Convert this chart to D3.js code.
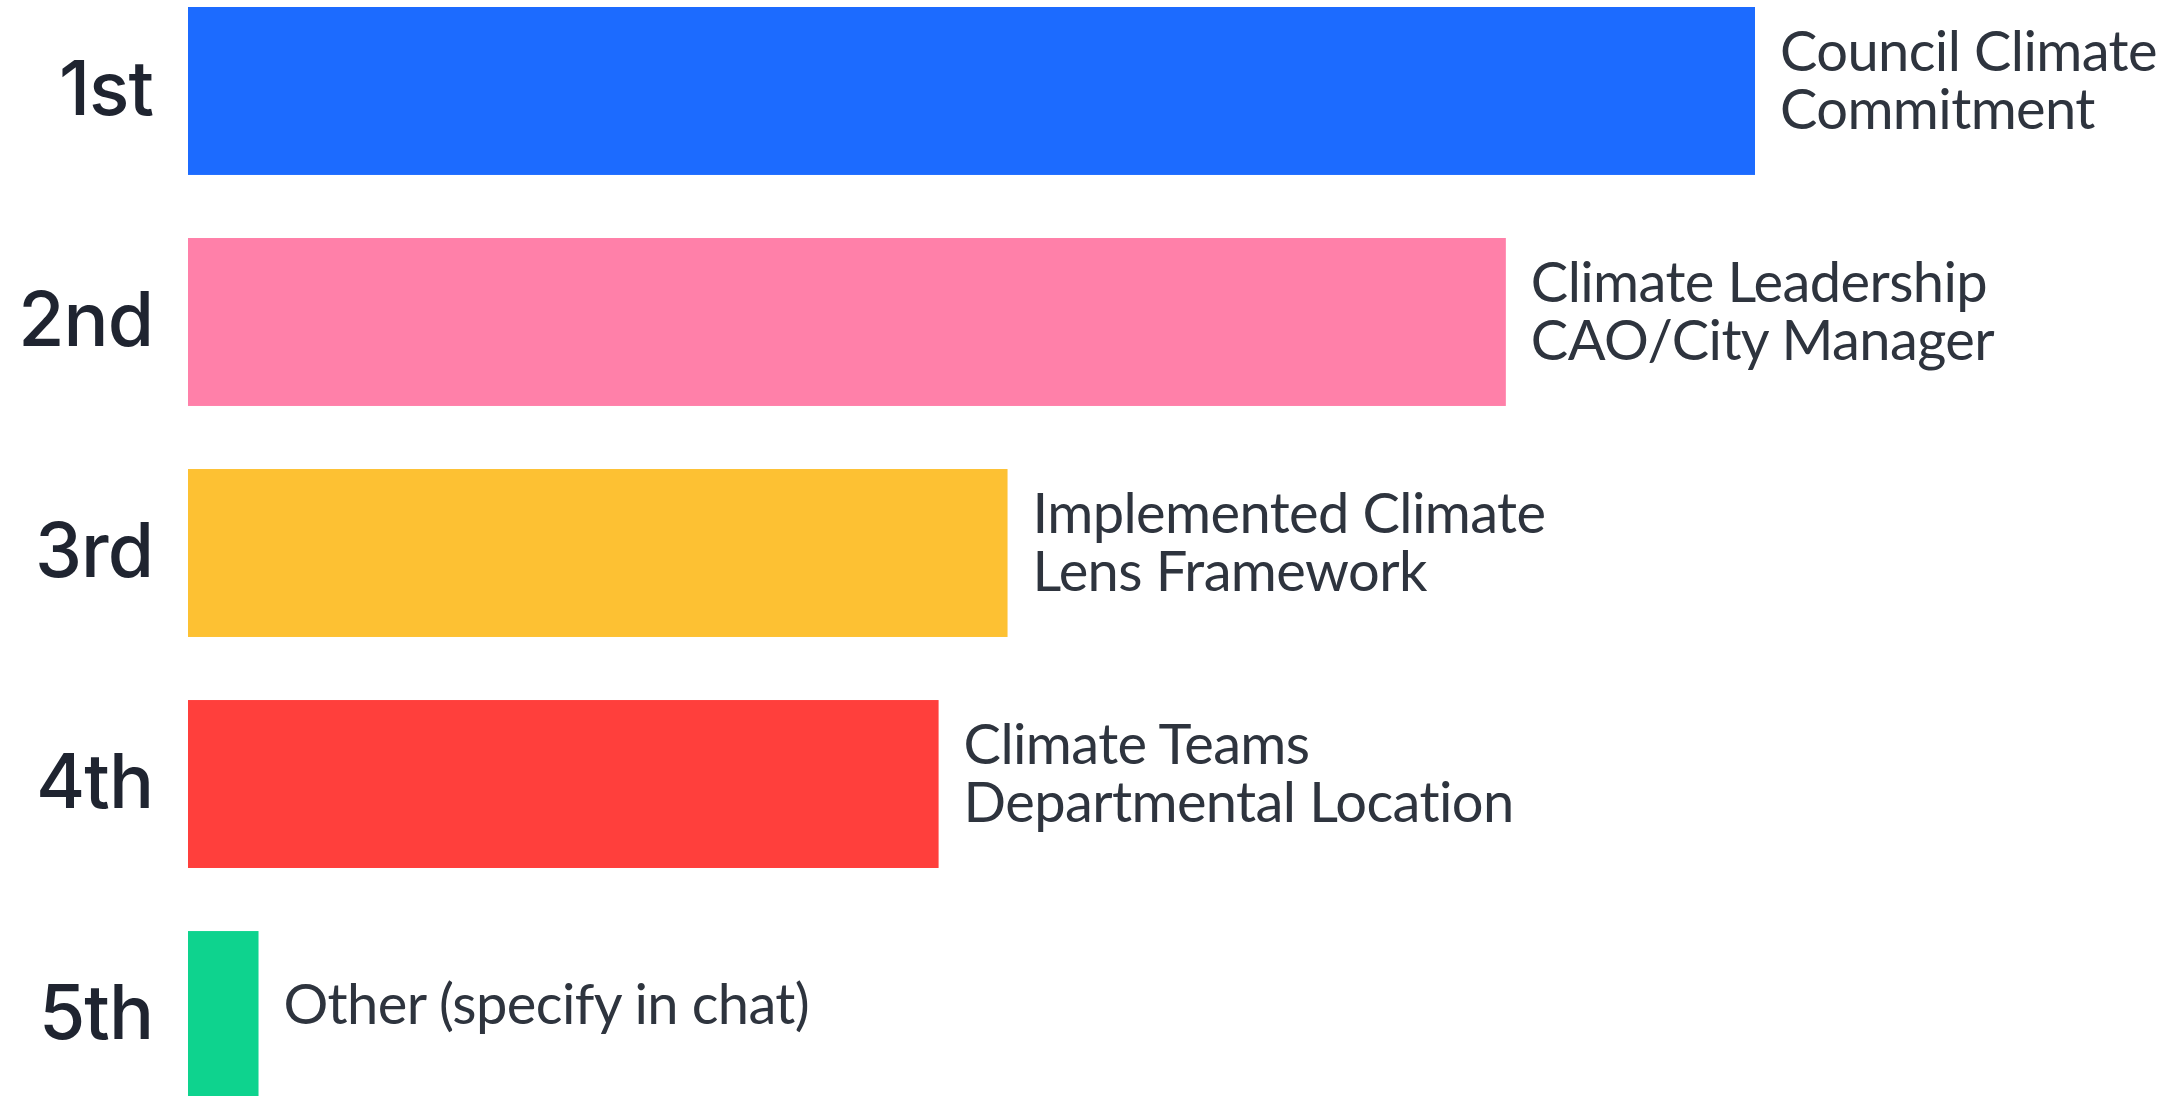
<!DOCTYPE html>
<html>
<head>
<meta charset="utf-8">
<script src="https://cdn.jsdelivr.net/npm/d3@7"></script>
<style>
    html, body { margin: 0; padding: 0; background: #fff; overflow: hidden; }
    svg { display: block; }
</style>
</head>
<body>
<svg width="2177" height="1096"></svg>
<script>
// Rangs et libellés
const ranks = ["1st", "2nd", "3rd", "4th", "5th"];
const labels = [
    ["Council Climate", "Commitment"],
    ["Climate Leadership", "CAO/City Manager"],
    ["Implemented Climate", "Lens Framework"],
    ["Climate Teams", "Departmental Location"],
    ["Other (specify in chat)"]
];
// Score relatif (barre la plus longue = 100)
const scores = [100, 84.1, 52.3, 47.9, 4.5];
const colors = ["#1c6bff", "#ff80a9", "#fdc133", "#ff3f3c", "#0ed38e"];

const svg = d3.select("svg");

const xScale = d3.scaleLinear()
    .domain([0, 100])
    .range([188, 1755]);

const yScale = d3.scaleBand()
    .domain(ranks)
    .range([7, 1099])
    .paddingInner(0.273)
    .paddingOuter(0);

// Barres
svg.selectAll("rect")
    .data(ranks)
    .enter()
    .append("rect")
    .attr("x", xScale(0))
    .attr("y", d => yScale(d))
    .attr("width", (d, i) => xScale(scores[i]) - xScale(0))
    .attr("height", yScale.bandwidth())
    .attr("fill", (d, i) => colors[i]);

// Axe Y (rangs)
const yAxis = d3.axisLeft(yScale).tickSize(0).tickPadding(35);
svg.append("g")
    .attr("transform", `translate(${xScale(0)}, 0)`)
    .call(yAxis)
    .call(g => g.select(".domain").remove())
    .selectAll("text")
    .attr("font-family", "Inter")
    .attr("font-weight", 500)
    .attr("font-size", 75)
    .attr("letter-spacing", -1)
    .attr("fill", "#1f2430");

// Libellés à droite des barres
const lineH = 58;
const lab = svg.selectAll(".lab")
    .data(ranks)
    .enter()
    .append("text")
    .attr("class", "lab")
    .attr("font-family", "Lato")
    .attr("font-size", 56)
    .attr("letter-spacing", -0.6)
    .attr("fill", "#2e343e")
    .attr("x", (d, i) => xScale(scores[i]) + 25)
    .attr("y", (d, i) => {
        const n = labels[i].length;
        const mid = yScale(d) + yScale.bandwidth() / 2 - 11;
        return mid - (n - 1) * lineH / 2 + 20;
    });

lab.each(function(d, i) {
    const t = d3.select(this);
    labels[i].forEach((line, j) => {
        t.append("tspan")
            .attr("x", xScale(scores[i]) + 25)
            .attr("dy", j === 0 ? 0 : lineH)
            .text(line);
    });
});
</script>
</body>
</html>
